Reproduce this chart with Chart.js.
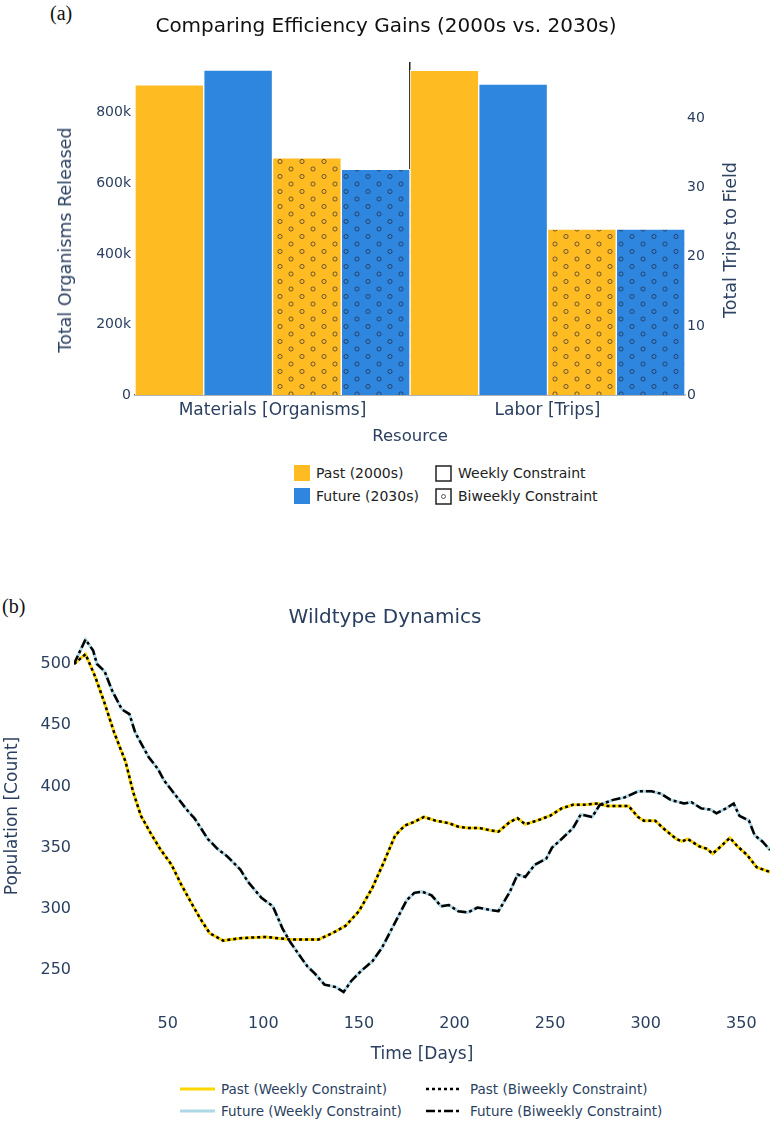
<!DOCTYPE html>
<html>
<head>
<meta charset="utf-8">
<script src="https://cdn.jsdelivr.net/npm/chart.js@4.4.0/dist/chart.umd.min.js"></script>
<style>
body { margin: 0; background: #fff; width: 772px; height: 1121px; position: relative; overflow: hidden; font-family: "DejaVu Sans", Verdana, sans-serif; }
#topWrap { position: absolute; left: 0; top: 0; width: 772px; height: 450px; }
#botWrap { position: absolute; left: 0; top: 590px; width: 772px; height: 480px; }
.panel { position: absolute; font-family: "Liberation Serif", serif; font-size: 20px; color: #111; line-height: 20px; }
.lg { position: absolute; display: flex; align-items: center; white-space: nowrap; }
.lg svg { flex: none; }
.lgTop { font-size: 14px; color: #222; }
.lgBot { font-size: 13.5px; color: #2a3f5f; }
.ytitle { position: absolute; white-space: nowrap; font-size: 17.5px; color: #2a3f5f; transform: translate(-50%, -50%) rotate(-90deg); line-height: 20px; }
</style>
</head>
<body>
<div class="panel" style="left:50px;top:3px;">(a)</div>
<div class="panel" style="left:2px;top:596px;">(b)</div>

<div id="topWrap"><canvas id="effChart" width="772" height="450"></canvas></div>
<div id="botWrap"><canvas id="wildChart" width="772" height="480"></canvas></div>

<div class="ytitle" style="left:65px;top:240px;">Total Organisms Released</div>
<div class="ytitle" style="left:730px;top:240px;">Total Trips to Field</div>

<!-- legend of panel (a) -->
<div class="lg lgTop" style="left:294px;top:464px;height:18px;">
	<svg width="16" height="16"><rect x="0" y="0" width="16" height="16" fill="#FEBB22"/></svg>
	<span style="margin-left:6px">Past (2000s)</span>
</div>
<div class="lg lgTop" style="left:294px;top:487px;height:18px;">
	<svg width="16" height="16"><rect x="0" y="0" width="16" height="16" fill="#2E86DE"/></svg>
	<span style="margin-left:6px">Future (2030s)</span>
</div>
<div class="lg lgTop" style="left:435px;top:464px;height:18px;">
	<svg width="17" height="17"><rect x="1" y="1" width="15" height="15" fill="#fff" stroke="#222" stroke-width="1.5"/></svg>
	<span style="margin-left:6px">Weekly Constraint</span>
</div>
<div class="lg lgTop" style="left:435px;top:487px;height:18px;">
	<svg width="17" height="17"><rect x="1" y="1" width="15" height="15" fill="#fff" stroke="#222" stroke-width="1.5"/><circle cx="8.5" cy="8.5" r="2" fill="none" stroke="#333" stroke-width="0.8"/></svg>
	<span style="margin-left:6px">Biweekly Constraint</span>
</div>

<!-- legend of panel (b) -->
<div class="lg lgBot" style="left:180px;top:1080px;height:18px;">
	<svg width="35" height="6"><line x1="0" y1="3" x2="35" y2="3" stroke="#FFD700" stroke-width="3"/></svg>
	<span style="margin-left:6px">Past (Weekly Constraint)</span>
</div>
<div class="lg lgBot" style="left:180px;top:1102px;height:18px;">
	<svg width="35" height="6"><line x1="0" y1="3" x2="35" y2="3" stroke="#ADD8E6" stroke-width="3"/></svg>
	<span style="margin-left:6px">Future (Weekly Constraint)</span>
</div>
<div class="lg lgBot" style="left:426px;top:1080px;height:18px;">
	<svg width="35" height="6"><line x1="0" y1="3" x2="35" y2="3" stroke="#000" stroke-width="2.5" stroke-dasharray="3,3"/></svg>
	<span style="margin-left:9px">Past (Biweekly Constraint)</span>
</div>
<div class="lg lgBot" style="left:426px;top:1102px;height:18px;">
	<svg width="35" height="6"><line x1="0" y1="3" x2="35" y2="3" stroke="#000" stroke-width="2.5" stroke-dasharray="9,3,3,3"/></svg>
	<span style="margin-left:9px">Future (Biweekly Constraint)</span>
</div>

<script>
// panel (a) data
const resourceLabels = ['Materials [Organisms]', 'Labor [Trips]'];
const barSeries = ['Past (2000s) Weekly', 'Future (2030s) Weekly', 'Past (2000s) Biweekly', 'Future (2030s) Biweekly'];
const organismsReleased = [879000, 921000, 672000, 640000];
const fieldTrips = [47, 45, 24, 24];
const organismTicks = [0, 200000, 400000, 600000, 800000];
const tripTicks = [0, 10, 20, 30, 40];

// panel (b) data
const pastDays = [1, 7, 12, 17, 22, 28, 32, 36, 41, 46, 52, 57, 63, 67, 72, 79, 88, 101, 114, 129, 136, 143, 150, 157, 163, 169, 174, 179, 184, 190, 197, 202, 207, 213, 219, 223, 229, 233, 237, 243, 250, 256, 262, 268, 275, 280, 291, 296, 299, 305, 309, 316, 319, 322, 328, 332, 335, 340, 344, 348, 353, 358, 365];
const pastCounts = [500, 508, 490, 468, 444, 420, 395, 376, 362, 349, 336, 320, 303, 292, 280, 274, 276, 277, 275, 275, 280, 286, 298, 317, 338, 360, 368, 371, 375, 372, 370, 367, 366, 366, 364, 363, 371, 374, 369, 372, 376, 382, 385, 385, 386, 384, 384, 375, 372, 372, 366, 357, 355, 357, 351, 349, 345, 352, 358, 351, 344, 334, 330];
const futureDays = [1, 7, 11, 13, 17, 21, 26, 30, 33, 40, 45, 48, 56, 61, 64, 71, 76, 81, 88, 92, 99, 105, 110, 114, 118, 123, 127, 132, 138, 142, 146, 151, 157, 162, 166, 171, 175, 179, 183, 188, 193, 197, 202, 207, 212, 219, 223, 229, 233, 237, 242, 248, 251, 256, 262, 266, 272, 276, 283, 289, 296, 303, 308, 313, 320, 324, 329, 334, 337, 342, 346, 349, 354, 357, 361, 365];
const futureCounts = [500, 520, 511, 500, 494, 478, 463, 459, 444, 424, 414, 405, 389, 379, 374, 357, 349, 343, 332, 322, 309, 302, 284, 273, 264, 253, 247, 238, 236, 232, 241, 249, 257, 268, 280, 295, 307, 313, 314, 311, 302, 303, 298, 297, 301, 299, 298, 314, 328, 326, 336, 341, 350, 357, 366, 377, 375, 385, 389, 391, 396, 396, 394, 389, 386, 387, 382, 381, 378, 382, 386, 376, 372, 360, 355, 348];
const dayTicks = [50, 100, 150, 200, 250, 300, 350];
const countTicks = [250, 300, 350, 400, 450, 500];

const FONT = '"DejaVu Sans", Verdana, sans-serif';
const NAVY = '#2a3f5f';
const YELLOW = '#FEBB22';
const BLUE = '#2E86DE';

function makeCirclePattern(bg) {
	var c = document.createElement('canvas');
	c.width = 22;
	c.height = 15;
	var g = c.getContext('2d');
	g.fillStyle = bg;
	g.fillRect(0, 0, 22, 15);
	g.strokeStyle = 'rgba(35,35,55,0.8)';
	g.lineWidth = 0.8;
	[[5, 4], [16, 11.5]].forEach(function(p) {
		g.beginPath();
		g.arc(p[0], p[1], 2.1, 0, Math.PI * 2);
		g.stroke();
	});
	return g.createPattern(c, 'repeat');
}

function GetEfficiencyBarChart() {
	var fills = [YELLOW, BLUE, makeCirclePattern(YELLOW), makeCirclePattern(BLUE)];
	var datasets = [];
	// materials on left axis, labor on right axis; nulls are skipped for spacing
	barSeries.forEach(function(name, i) {
		datasets.push({
			label: name,
			data: [organismsReleased[i], null],
			yAxisID: 'y',
			backgroundColor: fills[i],
			borderColor: '#fff',
			borderWidth: 1,
			borderSkipped: 'bottom',
			skipNull: true
		});
	});
	barSeries.forEach(function(name, i) {
		datasets.push({
			label: name,
			data: [null, fieldTrips[i]],
			yAxisID: 'y1',
			backgroundColor: fills[i],
			borderColor: '#fff',
			borderWidth: 1,
			borderSkipped: 'bottom',
			skipNull: true
		});
	});

	var ctx = document.getElementById('effChart').getContext('2d');
	new Chart(ctx, {
		type: 'bar',
		data: { labels: resourceLabels, datasets: datasets },
		options: {
			responsive: false,
			animation: false,
			categoryPercentage: 1,
			barPercentage: 1,
			layout: { padding: 0 },
			plugins: {
				legend: { display: false },
				tooltip: { enabled: false },
				title: {
					display: true,
					text: 'Comparing Efficiency Gains (2000s vs. 2030s)',
					color: '#111',
					font: { family: FONT, size: 20, weight: 'normal' },
					padding: { top: 15, bottom: 23 }
				}
			},
			scales: {
				x: {
					grid: {
						offset: true,
						drawTicks: false,
						color: function(c) { return c.index === 1 ? '#222' : 'rgba(0,0,0,0)'; },
						lineWidth: 1.5
					},
					border: { display: true, color: '#666', width: 1.5 },
					ticks: { color: NAVY, font: { family: FONT, size: 17 }, padding: 5 },
					title: { display: true, text: 'Resource', color: NAVY, font: { family: FONT, size: 16.5 }, padding: { top: 0, bottom: 3 } },
					afterFit: function(s) { s.height = 55; }
				},
				y: {
					position: 'left',
					min: 0,
					max: 944000,
					grid: { display: false, drawTicks: false },
					border: { display: false },
					afterBuildTicks: function(s) { s.ticks = organismTicks.map(function(v) { return { value: v }; }); },
					ticks: {
						color: NAVY,
						font: { family: FONT, size: 14 },
						padding: 4,
						callback: function(v) { return v === 0 ? '0' : (v / 1000) + 'k'; }
					},
					afterFit: function(s) { s.width = 135; }
				},
				y1: {
					position: 'right',
					min: 0,
					max: 48.2,
					grid: { display: false, drawTicks: false },
					border: { display: false },
					afterBuildTicks: function(s) { s.ticks = tripTicks.map(function(v) { return { value: v }; }); },
					ticks: { color: NAVY, font: { family: FONT, size: 14 }, padding: 2 },
					afterFit: function(s) { s.width = 87; }
				}
			}
		}
	});
}

function toPoints(days, counts) {
	return days.map(function(d, i) { return { x: d, y: counts[i] }; });
}

function GetWildtypeLineChart() {
	var past = toPoints(pastDays, pastCounts);
	var future = toPoints(futureDays, futureCounts);
	var base = { pointRadius: 0, tension: 0, fill: false };
	var ctx = document.getElementById('wildChart').getContext('2d');
	new Chart(ctx, {
		type: 'line',
		data: {
			datasets: [
				Object.assign({ label: 'Past (Weekly Constraint)', data: past, borderColor: '#FFD700', borderWidth: 3, order: 1 }, base),
				Object.assign({ label: 'Future (Weekly Constraint)', data: future, borderColor: '#ADD8E6', borderWidth: 3, order: 1 }, base),
				Object.assign({ label: 'Past (Biweekly Constraint)', data: past, borderColor: '#000', borderWidth: 2.5, borderDash: [3, 3], order: 0 }, base),
				Object.assign({ label: 'Future (Biweekly Constraint)', data: future, borderColor: '#000', borderWidth: 2.5, borderDash: [9, 3, 3, 3], order: 0 }, base)
			]
		},
		options: {
			responsive: false,
			animation: false,
			layout: { padding: { right: 2 } },
			plugins: {
				legend: { display: false },
				tooltip: { enabled: false },
				title: {
					display: true,
					text: 'Wildtype Dynamics',
					color: NAVY,
					font: { family: FONT, size: 20, weight: 'normal' },
					padding: { top: 16, bottom: -8 }
				}
			},
			scales: {
				x: {
					type: 'linear',
					min: 1,
					max: 365,
					grid: { display: false, drawTicks: false },
					border: { display: false },
					afterBuildTicks: function(s) { s.ticks = dayTicks.map(function(v) { return { value: v }; }); },
					ticks: { color: NAVY, font: { family: FONT, size: 16 }, padding: 4 },
					title: { display: true, text: 'Time [Days]', color: NAVY, font: { family: FONT, size: 17 }, padding: { top: 0, bottom: 5 } },
					afterFit: function(s) { s.height = 60; }
				},
				y: {
					min: 217.3,
					max: 534.3,
					grid: { display: false, drawTicks: false },
					border: { display: false },
					afterBuildTicks: function(s) { s.ticks = countTicks.map(function(v) { return { value: v }; }); },
					ticks: { color: NAVY, font: { family: FONT, size: 16 }, padding: 3 },
					title: { display: true, text: 'Population [Count]', color: NAVY, font: { family: FONT, size: 17 }, padding: { top: 2, bottom: 0 } },
					afterFit: function(s) { s.width = 74; }
				}
			}
		}
	});
}

GetEfficiencyBarChart();
GetWildtypeLineChart();
</script>
</body>
</html>
